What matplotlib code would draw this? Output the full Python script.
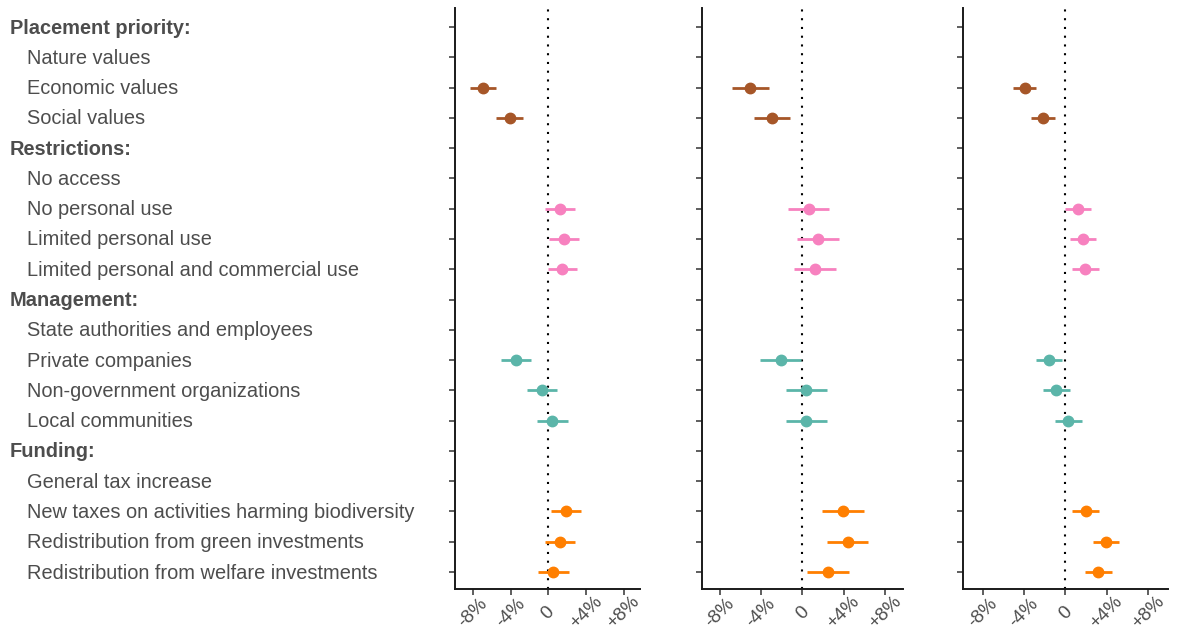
import matplotlib
matplotlib.use("Agg")
import matplotlib.pyplot as plt
import numpy as np

plt.rcParams['font.family'] = ['Liberation Sans', 'DejaVu Sans']

# Row labels (top to bottom); headers are bold and carry no estimates
row_labels = [
    "Placement priority:", "Nature values", "Economic values", "Social values",
    "Restrictions:", "No access", "No personal use", "Limited personal use",
    "Limited personal and commercial use",
    "Management:", "State authorities and employees", "Private companies",
    "Non-government organizations", "Local communities",
    "Funding:", "General tax increase", "New taxes on activities harming biodiversity",
    "Redistribution from green investments", "Redistribution from welfare investments",
]
header_rows = [0, 4, 9, 14]

# Estimated rows, their attribute group, and per-panel estimates (%) with CIs
est_rows = [2, 3, 6, 7, 8, 11, 12, 13, 16, 17, 18]
est_group = ["place", "place", "restr", "restr", "restr",
             "mgmt", "mgmt", "mgmt", "fund", "fund", "fund"]

p1_est = [-6.9, -4.07, 1.2, 1.67, 1.5, -3.44, -0.7, 0.43, 1.88, 1.24, 0.53]
p1_lo = [-8.3, -5.5, -0.35, 0.04, -0.07, -5.0, -2.2, -1.17, 0.29, -0.35, -1.06]
p1_hi = [-5.5, -2.7, 2.85, 3.3, 3.1, -1.8, 0.9, 2.06, 3.48, 2.87, 2.17]

p2_est = [-5.08, -2.9, 0.65, 1.55, 1.2, -2.09, 0.39, 0.36, 3.96, 4.42, 2.48]
p2_lo = [-6.82, -4.64, -1.35, -0.48, -0.8, -4.06, -1.64, -1.64, 1.93, 2.42, 0.48]
p2_hi = [-3.28, -1.16, 2.6, 3.57, 3.26, -0.1, 2.39, 2.39, 5.96, 6.38, 4.48]

p3_est = [-3.95, -2.17, 1.19, 1.75, 1.94, -1.59, -0.87, 0.29, 1.97, 3.91, 3.2]
p3_lo = [-5.08, -3.3, -0.07, 0.42, 0.64, -2.88, -2.17, -1.0, 0.68, 2.68, 1.9]
p3_hi = [-2.81, -1.04, 2.48, 3.0, 3.23, -0.29, 0.42, 1.58, 3.26, 5.2, 4.49]

x_ticks = [-8, -4, 0, 4, 8]
x_tick_labels = ["-8%", "-4%", "0", "+4%", "+8%"]

group_colors = {"place": "#A65628", "restr": "#F781BF",
                "mgmt": "#5BB5A9", "fund": "#FF7F00"}

W, H = 1178, 630
fig = plt.figure(figsize=(W / 100, H / 100), dpi=100)

# Panel placement in pixels: (left, right), and x-limits
panel_px = [(455, 640), (702, 903), (963, 1168)]
panel_xlim = [(-9.9, 9.75), (-9.72, 9.73), (-9.93, 9.95)]
top_px, bottom_px = 8, 589
panels = [(p1_est, p1_lo, p1_hi), (p2_est, p2_lo, p2_hi), (p3_est, p3_lo, p3_hi)]

text_col = "#4D4D4D"
n_rows = len(row_labels)

for (l, r), xl, (est, lo, hi) in zip(panel_px, panel_xlim, panels):
    ax = fig.add_axes([l / W, 1 - bottom_px / H, (r - l) / W, (bottom_px - top_px) / H])
    ax.set_xlim(*xl)
    ax.set_ylim(18.56, -0.63)
    ax.axvline(0, color="black", lw=1.5, linestyle=(0, (1, 3.2)), zorder=1)
    for row, g, e, a, b in zip(est_rows, est_group, est, lo, hi):
        c = group_colors[g]
        ax.plot([a, b], [row, row], color=c, lw=2.0, solid_capstyle="butt", zorder=2)
        ax.plot([e], [row], "o", color=c, ms=7.5, mec=c, zorder=3)
    ax.set_yticks(np.arange(n_rows))
    ax.set_yticklabels([])
    ax.set_xticks(x_ticks)
    ax.set_xticklabels(x_tick_labels, rotation=45, ha="center", va="center",
                       fontsize=13.5, color=text_col)
    ax.tick_params(axis="y", length=4, width=1.1, color="#333333")
    ax.tick_params(axis="x", length=4, width=1.1, color="#333333", pad=13)
    for s in ("top", "right"):
        ax.spines[s].set_visible(False)
    for s in ("left", "bottom"):
        ax.spines[s].set_linewidth(1.4)
        ax.spines[s].set_color("#1A1A1A")
    ax.set_facecolor("none")

# Row labels on the left margin
row0_px, row_step = 27, 30.28
for i, lab in enumerate(row_labels):
    y = 1 - (row0_px + i * row_step + 1) / H
    if i in header_rows:
        fig.text(10 / W, y, lab, fontsize=14.4, fontweight="bold",
                 color=text_col, va="center", ha="left")
    else:
        fig.text(27 / W, y, lab, fontsize=14.4, color=text_col,
                 va="center", ha="left")

fig.savefig("out.png", dpi=100, facecolor="white")
